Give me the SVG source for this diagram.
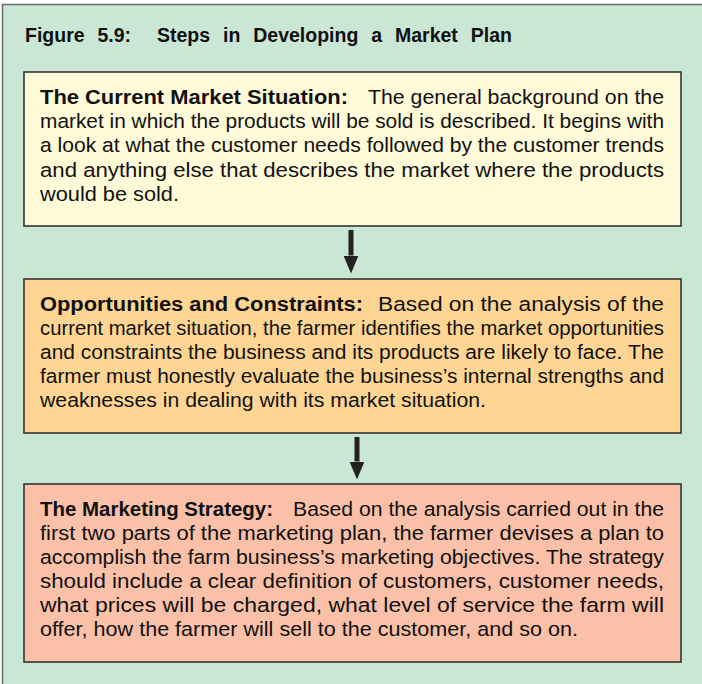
<svg xmlns="http://www.w3.org/2000/svg" width="702" height="684" viewBox="0 0 702 684">
<style>
.bg{fill:#c9e7d4;stroke:#6a6a6a;stroke-width:1.5}
.box{stroke:#2a2a2a;stroke-width:1.5}
.t{font-family:"Liberation Sans",Arial,Helvetica,sans-serif;fill:#111}
.b{font-weight:bold;font-size:20px}
.r{font-size:20.5px}
.title{font-weight:bold;font-size:19.5px;word-spacing:7.5px}
.con{stroke:#222;stroke-width:5;fill:none}
</style>
<defs>
<marker id="ah" markerUnits="userSpaceOnUse" markerWidth="18" markerHeight="15" refX="0" refY="7.5" orient="auto">
<path d="M0,0 L18,7.5 L0,15 z" fill="#222"/>
</marker>
</defs>
<rect class="bg" x="2.5" y="4.5" width="720" height="700"/>
<text class="t title" x="25" y="42" xml:space="preserve">Figure 5.9:  Steps in Developing a Market Plan</text>

<g id="connectors">
<line class="con" x1="351" y1="230" x2="351" y2="255.5" marker-end="url(#ah)"/>
<line class="con" x1="357" y1="437" x2="357" y2="461.5" marker-end="url(#ah)"/>
</g>

<g id="current-market">
<rect class="box" x="24" y="72" width="657" height="154" fill="#fffad8"/>
<text class="t b" x="40" y="104" textLength="308" lengthAdjust="spacingAndGlyphs">The Current Market Situation:</text>
<text class="t r" x="368" y="104" textLength="296" lengthAdjust="spacingAndGlyphs">The general background on the</text>
<text class="t r" x="40" y="128" textLength="624" lengthAdjust="spacingAndGlyphs">market in which the products will be sold is described. It begins with</text>
<text class="t r" x="40" y="152.3" textLength="624" lengthAdjust="spacingAndGlyphs">a look at what the customer needs followed by the customer trends</text>
<text class="t r" x="40" y="176.5" textLength="624" lengthAdjust="spacingAndGlyphs">and anything else that describes the market where the products</text>
<text class="t r" x="40" y="200.7" textLength="139" lengthAdjust="spacingAndGlyphs">would be sold.</text>
</g>

<g id="opportunities">
<rect class="box" x="24" y="279" width="657" height="154" fill="#fed592"/>
<text class="t b" x="40" y="310.5" textLength="323" lengthAdjust="spacingAndGlyphs">Opportunities and Constraints:</text>
<text class="t r" x="378" y="310.5" textLength="286" lengthAdjust="spacingAndGlyphs">Based on the analysis of the</text>
<text class="t r" x="40" y="334.7" textLength="624" lengthAdjust="spacingAndGlyphs">current market situation, the farmer identifies the market opportunities</text>
<text class="t r" x="40" y="358.9" textLength="624" lengthAdjust="spacingAndGlyphs">and constraints the business and its products are likely to face. The</text>
<text class="t r" x="40" y="383" textLength="624" lengthAdjust="spacingAndGlyphs">farmer must honestly evaluate the business’s internal strengths and</text>
<text class="t r" x="40" y="407.2" textLength="446" lengthAdjust="spacingAndGlyphs">weaknesses in dealing with its market situation.</text>
</g>

<g id="marketing-strategy">
<rect class="box" x="24" y="484" width="657" height="178" fill="#fac0a8"/>
<text class="t b" x="40" y="515.5" textLength="233" lengthAdjust="spacingAndGlyphs">The Marketing Strategy:</text>
<text class="t r" x="293" y="515.5" textLength="371" lengthAdjust="spacingAndGlyphs">Based on the analysis carried out in the</text>
<text class="t r" x="40" y="539.5" textLength="624" lengthAdjust="spacingAndGlyphs">first two parts of the marketing plan, the farmer devises a plan to</text>
<text class="t r" x="40" y="563.5" textLength="624" lengthAdjust="spacingAndGlyphs">accomplish the farm business’s marketing objectives. The strategy</text>
<text class="t r" x="40" y="587.5" textLength="624" lengthAdjust="spacingAndGlyphs">should include a clear definition of customers, customer needs,</text>
<text class="t r" x="40" y="611.5" textLength="624" lengthAdjust="spacingAndGlyphs">what prices will be charged, what level of service the farm will</text>
<text class="t r" x="40" y="635.5" textLength="538" lengthAdjust="spacingAndGlyphs">offer, how the farmer will sell to the customer, and so on.</text>
</g>
</svg>
